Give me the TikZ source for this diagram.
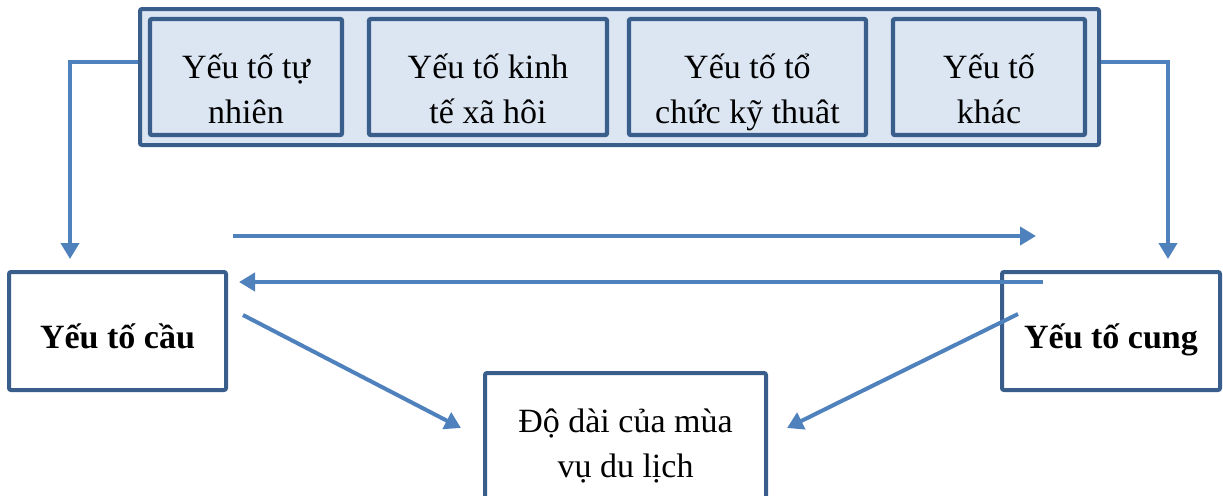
\documentclass[tikz,border=0pt]{standalone}
\usepackage{fontspec}
\setmainfont{Liberation Serif}
\usetikzlibrary{arrows.meta}
\definecolor{linkblue}{HTML}{4F81BD}
\definecolor{frameblue}{HTML}{3A5E8C}
\definecolor{paleblue}{HTML}{DCE6F2}
\begin{document}
\begin{tikzpicture}[x=0.5pt,y=-0.5pt,
  txt/.style={font=\fontsize{17}{22.5}\selectfont, align=center, text=black},
  factor/.style={txt, draw=frameblue, line width=2.2pt, fill=paleblue,
    rounded corners=1pt, minimum height=58pt, inner sep=0pt,
    text height=50pt, text depth=4pt},
  mainbox/.style={txt, draw=frameblue, line width=2pt, fill=white,
    rounded corners=1pt, inner sep=0pt},
  conn/.style={draw=linkblue, line width=2pt},
  arr/.style={conn, -{Triangle[length=8pt,width=9pt]}}]
\useasboundingbox (0,0) rectangle (1223,495);

% group frame holding the four factors
\node[draw=frameblue, line width=2pt, fill=paleblue, rounded corners=1pt,
  minimum width=479.5pt, minimum height=68pt, inner sep=0pt] (group) at (619.5,77) {};
\node[factor, minimum width=96pt]    (f1) at (246,77)   {Yếu tố tự\\nhiên};
\node[factor, minimum width=119pt]   (f2) at (488,77)   {Yếu tố kinh\\tế xã hôi};
\node[factor, minimum width=118.5pt] (f3) at (747.5,77) {Yếu tố tổ\\chức kỹ thuât};
\node[factor, minimum width=96pt]    (f4) at (989,77)   {Yếu tố\\khác};

% demand, supply and season length
\node[mainbox, minimum width=108.5pt, minimum height=59pt,
  text height=20pt, text depth=3pt] (cau) at (117.5,331)
  {\bfseries Yếu tố cầu};
\node[mainbox, minimum width=109pt, minimum height=59pt,
  text height=20pt, text depth=3pt] (cung) at (1111,331)
  {\bfseries Yếu tố cung};
\node[mainbox, minimum width=140.5pt, minimum height=70pt,
  text height=38pt, text depth=4pt] (mua) at (625.5,443)
  {Độ dài của mùa\\vụ du lịch};

% bend points and free ends of the connectors
\coordinate (lbend) at (70,62);
\coordinate (rbend) at (1168,62);
\coordinate (toS) at (233,236);
\coordinate (toE) at (1036,236);
\coordinate (backS) at (1043,282);
\coordinate (backE) at (239,282);
\coordinate (dlS) at (243,315);
\coordinate (dlE) at (461,428);
\coordinate (drS) at (1018,314);
\coordinate (drE) at (787,428);

% group to demand / supply
\draw[arr, shorten >=5.5pt] (group.west |- lbend) -- (lbend) -- (cau.north -| lbend);
\draw[arr, shorten >=5.5pt] (group.east |- rbend) -- (rbend) -- (cung.north -| rbend);

% demand <-> supply
\draw[arr] (toS) -- (toE);
\draw[arr] (backS) -- (backE);

% both feed the season length
\draw[arr] (dlS) -- (dlE);
\draw[arr] (drS) -- (drE);
\end{tikzpicture}
\end{document}
